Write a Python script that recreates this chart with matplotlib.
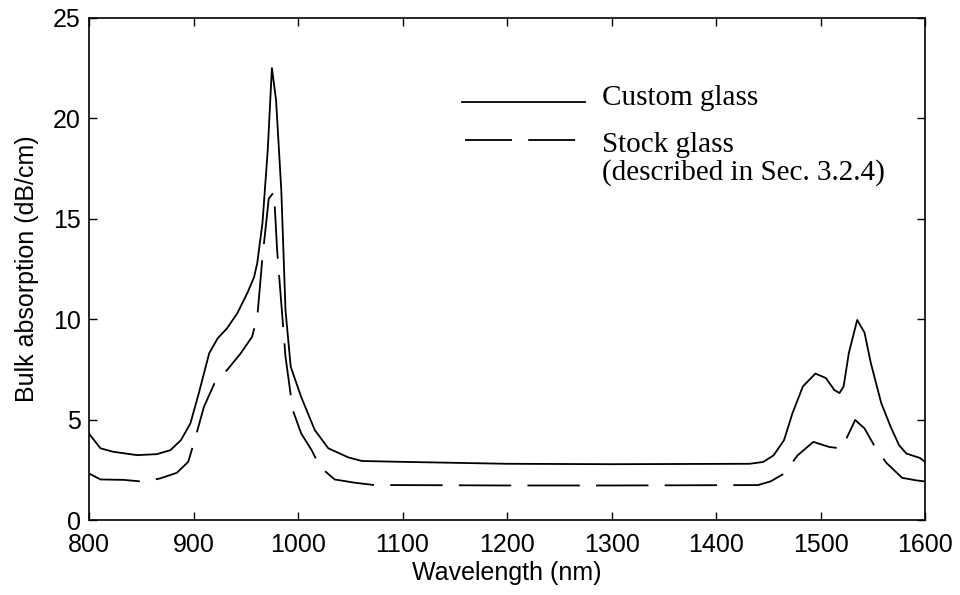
import numpy as np
import matplotlib
matplotlib.use("Agg")
import matplotlib.pyplot as plt
from matplotlib.lines import Line2D

# custom glass (solid line)
wl_custom = [800, 811, 823, 846, 865, 878, 888, 897, 905, 915, 923, 932, 942, 952,
             958, 961, 966, 971, 975, 979, 984, 988, 993, 1003, 1016, 1029, 1048,
             1061, 1096, 1200, 1300, 1432, 1445, 1455, 1465, 1473, 1483, 1495,
             1505, 1513, 1518, 1522, 1527, 1535, 1542, 1548, 1558, 1567, 1575,
             1582, 1595, 1600]
abs_custom = [4.3, 3.57, 3.4, 3.23, 3.28, 3.48, 3.98, 4.81, 6.3, 8.3, 9.04, 9.54, 10.3,
              11.36, 12.1, 12.8, 14.8, 18.4, 22.5, 20.9, 16.4, 10.45, 7.63, 6.13,
              4.48, 3.57, 3.12, 2.94, 2.9, 2.8, 2.78, 2.8, 2.89, 3.22, 3.98, 5.31,
              6.65, 7.29, 7.07, 6.48, 6.32, 6.65, 8.32, 9.96, 9.33, 7.82, 5.82, 4.64,
              3.73, 3.31, 3.09, 2.89]

# stock glass (dashed line)
wl_stock = [800, 811, 833, 852, 868, 884, 895, 902, 910, 920, 932, 945, 956, 961,
            966, 972, 977, 980, 984, 988, 995, 1003, 1013, 1021, 1035, 1054, 1073,
            1096, 1200, 1300, 1440, 1452, 1465, 1478, 1493, 1508, 1520, 1527, 1533,
            1542, 1552, 1563, 1578, 1592, 1600]
abs_stock = [2.32, 2.02, 2.0, 1.91, 2.07, 2.35, 2.9, 4.14, 5.64, 6.8, 7.46, 8.29, 9.12,
             10.1, 13.1, 16.0, 16.33, 13.43, 10.78, 8.13, 5.47, 4.31, 3.48, 2.65,
             2.02, 1.86, 1.74, 1.74, 1.72, 1.72, 1.74, 1.92, 2.31, 3.22, 3.89, 3.64,
             3.56, 4.31, 4.98, 4.56, 3.64, 2.84, 2.1, 1.97, 1.92]

x_ticks = [800, 900, 1000, 1100, 1200, 1300, 1400, 1500, 1600]
y_ticks = [0, 5, 10, 15, 20, 25]

fig = plt.figure(figsize=(9.6, 5.95), dpi=100)
ax = fig.add_axes([0.0927, 0.126, 0.871, 0.844])

ax.plot(wl_custom, abs_custom, color="black", lw=1.3)
ax.plot(wl_stock, abs_stock, color="black", lw=1.3, dashes=(29, 9))

ax.set_xlim(800, 1600)
ax.set_ylim(0, 25)
ax.set_xticks(x_ticks)
ax.set_yticks(y_ticks)
ax.tick_params(direction="in", top=True, right=True, length=6, width=1,
               labelsize=18)
ax.tick_params(axis="x", pad=9)
ax.tick_params(axis="y", pad=6)
for lbl in ax.get_xticklabels() + ax.get_yticklabels():
    lbl.set_fontfamily("Liberation Sans")
for s in ax.spines.values():
    s.set_linewidth(1.2)

ax.set_xlabel("Wavelength (nm)", fontsize=18, family="Liberation Sans", labelpad=3)
ax.set_ylabel("Bulk absorption (dB/cm)", fontsize=18, family="Liberation Sans",
              labelpad=10)

# legend drawn by hand, in axes fraction
ax.add_line(Line2D([0.446, 0.593], [0.833, 0.833], transform=ax.transAxes,
                   color="black", lw=1.3))
ax.add_line(Line2D([0.450, 0.585], [0.757, 0.757], transform=ax.transAxes,
                   color="black", lw=1.3, dashes=(26, 9)))
serif = dict(family="Liberation Serif", fontsize=21, va="baseline",
             transform=ax.transAxes)
ax.text(0.614, 0.827, "Custom glass", **serif)
ax.text(0.614, 0.733, "Stock glass", **serif)
ax.text(0.614, 0.677, "(described in Sec. 3.2.4)", **serif)

fig.savefig("out.png", dpi=100)
